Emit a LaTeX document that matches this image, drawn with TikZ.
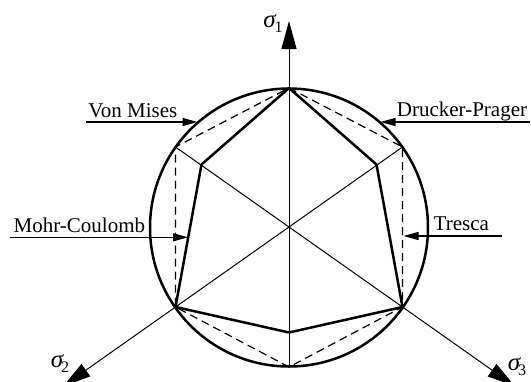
\documentclass[tikz,border=0pt]{standalone}
\usepackage{fontspec}
\setmainfont{Liberation Serif}
\usetikzlibrary{arrows.meta}
\begin{document}
\begin{tikzpicture}[x=0.5pt,y=-0.5pt,
  thickline/.style={line width=1.25pt, line join=round},
  axisline/.style={line width=0.5pt},
  bigarrow/.style={axisline,-{Triangle[length=14pt,width=7.5pt]}},
  annot/.style={line width=0.6pt,-{Triangle[length=7.5pt,width=4pt]}},
  dashhex/.style={line width=0.6pt,dash pattern=on 4pt off 2.5pt},
  lbl/.style={font=\fontsize{10.5}{12}\selectfont, inner sep=0pt, anchor=base west},
  sig/.style={font=\fontsize{12.5}{15}\selectfont, inner sep=0pt, anchor=base west}]
\useasboundingbox (0,0) rectangle (531,381);
% centre and vertices
\coordinate (O) at (289,227.5);
\coordinate (A1) at (289,88);
\coordinate (A2) at (402.5,147);
\coordinate (A3) at (402.5,307);
\coordinate (A4) at (289,367);
\coordinate (A5) at (175.5,307);
\coordinate (A6) at (175.5,147);
\coordinate (I1) at (376.5,164.5);
\coordinate (I2) at (289,332.5);
\coordinate (I3) at (201.5,164.5);
\coordinate (T1) at (289,21);
\coordinate (T2) at (63,386.3);
\coordinate (T3) at (515,386.3);
% axes
\draw[bigarrow] (A4) -- (T1);
\draw[bigarrow] (A2) -- (T2);
\draw[bigarrow] (A6) -- (T3);
% Tresca (dashed)
\draw[dashhex] (A1) -- (A2) -- (A3) -- (A4) -- (A5) -- (A6) -- cycle;
% Mohr-Coulomb (solid)
\draw[thickline] (A1) -- (I1) -- (A3) -- (I2) -- (A5) -- (I3) -- cycle;
% Von Mises / Drucker-Prager circle
\node[circle, draw, line width=1.25pt, minimum size=139pt, inner sep=0pt] (C) at (O) {};
% axis labels
\node[sig] (s1) at (263,27) {\itshape σ\kern-0.5pt\raisebox{-0.45ex}{\upshape\fontsize{8}{9}\selectfont 1}};
\node[sig] (s2) at (50.5,367) {\itshape σ\kern-1pt\raisebox{-0.45ex}{\upshape\fontsize{8}{9}\selectfont 2}};
\node[sig] (s3) at (507.5,370) {\itshape σ\kern-1pt\raisebox{-0.45ex}{\upshape\fontsize{8}{9}\selectfont 3}};
% criterion labels
\node[lbl] (vm) at (88,117) {Von Mises};
\node[lbl] (dp) at (396.5,116) {Drucker-Prager};
\node[lbl] (mc) at (13.3,232.7) {Mohr-Coulomb};
\node[lbl] (tr) at (433.3,230) {Tresca};
\coordinate (vmS) at (86,122);
\coordinate (vmT) at (197.5,122);
\coordinate (dpS) at (530,122);
\coordinate (dpT) at (380.5,122);
\coordinate (mcS) at (9.5,237.3);
\coordinate (mcT) at (188,237.3);
\coordinate (trS) at (502,236);
\coordinate (trT) at (403.5,236);
\draw[annot] (vmS) -- (vmT);
\draw[annot] (dpS) -- (dpT);
\draw[annot] (mcS) -- (mcT);
\draw[annot] (trS) -- (trT);
\end{tikzpicture}
\end{document}
